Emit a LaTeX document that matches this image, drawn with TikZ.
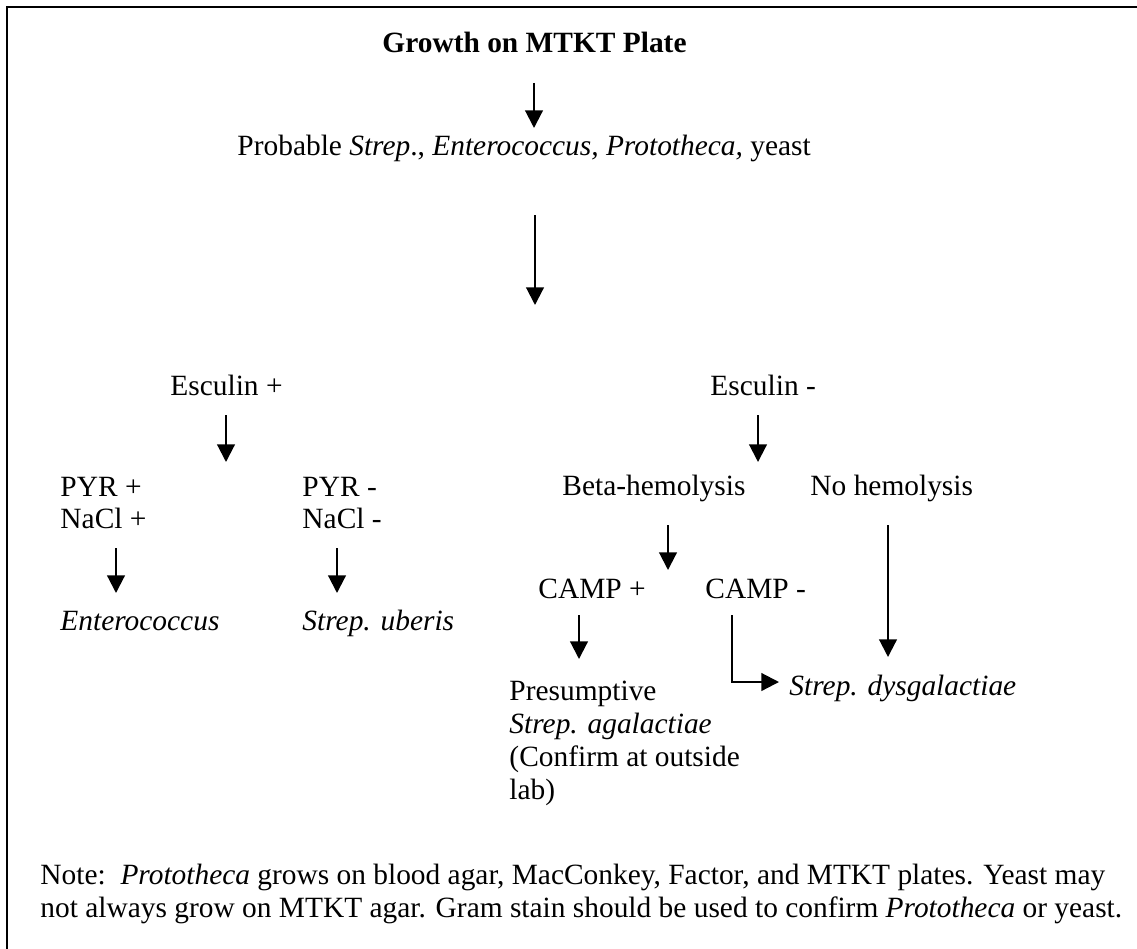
\documentclass[tikz,border=0pt]{standalone}
\usepackage{fontspec}
\setmainfont{Liberation Serif}
\usetikzlibrary{arrows.meta}
\begin{document}
\begin{tikzpicture}[x=0.42pt,y=-0.42pt,
  txt/.style={anchor=base west,inner sep=0pt,font=\fontsize{12.35pt}{14pt}\selectfont},
  arr/.style={line width=0.9pt,-{Triangle[length=7.4pt,width=7.4pt]}},
  frame/.style={line width=0.9pt}]
\useasboundingbox (0,0) rectangle (1137,948);
\fill[white] (0,0) rectangle (1137,948);
\draw[frame] (7,980) -- (7,7) -- (1160,7);

% texts
\node[txt,font=\fontsize{12.35pt}{14pt}\selectfont\bfseries] (title) at (382,53) {Growth on MTKT Plate};
\node[txt] (prob) at (237,155) {Probable \textit{Strep}., \textit{Enterococcus, Prototheca,} yeast};
\node[txt] (escp) at (170,395) {Esculin +};
\node[txt] (escm) at (710,395) {Esculin -};
\node[txt] (pyrp) at (60,496) {PYR +};
\node[txt] (naclp) at (60,528) {NaCl +};
\node[txt] (pyrm) at (302,496) {PYR -};
\node[txt] (naclm) at (302,528) {NaCl -};
\node[txt] (entero) at (60,630) {\textit{Enterococcus}};
\node[txt] (uberis) at (302,630) {\textit{Strep. uberis}};
\node[txt] (beta) at (562,495) {Beta-hemolysis};
\node[txt] (nohem) at (810,495) {No hemolysis};
\node[txt] (campp) at (538,598) {CAMP +};
\node[txt] (campm) at (705,598) {CAMP -};
\node[txt] (pres1) at (509,700) {Presumptive};
\node[txt] (pres2) at (509,733) {\textit{Strep. agalactiae}};
\node[txt] (pres3) at (509,766) {(Confirm at outside};
\node[txt] (pres4) at (509,799) {lab)};
\node[txt] (dysg) at (789,695) {\textit{Strep. dysgalactiae}};
\node[txt] (note1) at (40,884) {Note:\ \ \textit{Prototheca} grows on blood agar, MacConkey, Factor, and MTKT plates. Yeast may};
\node[txt] (note2) at (40,917) {not always grow on MTKT agar. Gram stain should be used to confirm \textit{Prototheca} or yeast.};

% arrow end points
\coordinate (a1s) at (534,83);  \coordinate (a1e) at (534,128);
\coordinate (a2s) at (535,215); \coordinate (a2e) at (535,305);
\coordinate (a3s) at (226,415); \coordinate (a3e) at (226,462);
\coordinate (a4s) at (758,415); \coordinate (a4e) at (758,462);
\coordinate (a5s) at (116,548); \coordinate (a5e) at (116,593);
\coordinate (a6s) at (337,548); \coordinate (a6e) at (337,593);
\coordinate (a7s) at (668,525); \coordinate (a7e) at (668,570);
\coordinate (a8s) at (888,525); \coordinate (a8e) at (888,657);
\coordinate (a9s) at (579,615); \coordinate (a9e) at (579,659);
\coordinate (a10s) at (732,615); \coordinate (a10e) at (779,682);

\draw[arr] (a1s) -- (a1e);
\draw[arr] (a2s) -- (a2e);
\draw[arr] (a3s) -- (a3e);
\draw[arr] (a4s) -- (a4e);
\draw[arr] (a5s) -- (a5e);
\draw[arr] (a6s) -- (a6e);
\draw[arr] (a7s) -- (a7e);
\draw[arr] (a8s) -- (a8e);
\draw[arr] (a9s) -- (a9e);
\draw[arr] (a10s) |- (a10e);
\end{tikzpicture}
\end{document}
